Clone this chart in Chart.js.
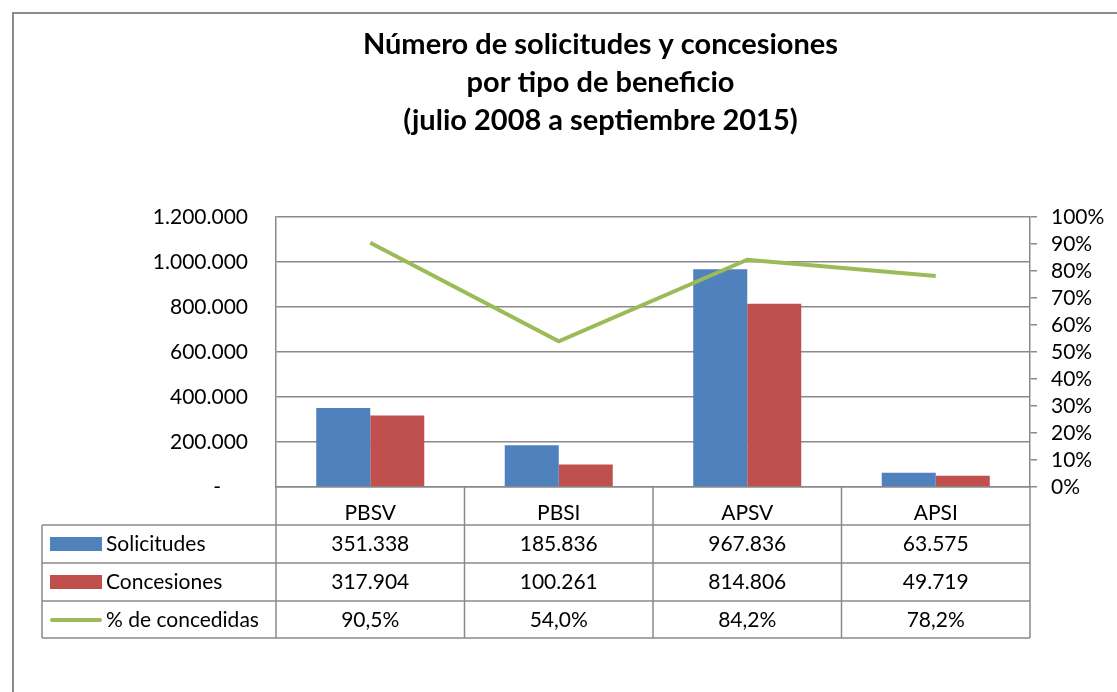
<!DOCTYPE html>
<html>
<head>
<meta charset="utf-8">
<script src="https://cdn.jsdelivr.net/npm/chart.js@4"></script>
<style>
  body { margin: 0; background: #fff; }
  #wrap { width: 1117px; height: 692px; position: relative; }
</style>
</head>
<body>
<div id="wrap"><canvas id="chart"></canvas></div>
<script>
// Data
const categories = ['PBSV', 'PBSI', 'APSV', 'APSI'];
const solicitudes = [351338, 185836, 967836, 63575];
const concesiones = [317904, 100261, 814806, 49719];
const pctConcedidas = [0.905, 0.540, 0.842, 0.782];
const seriesNames = ['Solicitudes', 'Concesiones', '% de concedidas'];
const titleLines = ['Número de solicitudes y concesiones', 'por tipo de beneficio', '(julio 2008 a septiembre 2015)'];

const BLUE = '#4F81BD';
const RED = '#C0504D';
const GREEN = '#9BBB59';
const GRID = '#8a8a8a';
const FONT = 'Lato';

function fmtNum(v) {
    return String(Math.round(v)).replace(/\B(?=(\d{3})+(?!\d))/g, '.');
}
function fmtPct(v) {
    return (v * 100).toFixed(1).replace('.', ',') + '%';
}

// outer frame of the chart object (cut off at right/bottom)
const framePlugin = {
    id: 'frame',
    beforeDraw(chart) {
        const ctx = chart.ctx;
        ctx.save();
        ctx.strokeStyle = '#8c8c8c';
        ctx.lineWidth = 2;
        ctx.beginPath();
        ctx.moveTo(13, chart.height);
        ctx.lineTo(13, 13);
        ctx.lineTo(chart.width, 13);
        ctx.stroke();
        ctx.restore();
    }
};

// data table under the plot
const tablePlugin = {
    id: 'dataTable',
    afterDraw(chart) {
        const ctx = chart.ctx;
        const x = chart.scales.x;
        const n = categories.length;
        const colW = (x.right - x.left) / n;
        const top = chart.chartArea.bottom;
        const rowH = 38;
        const tableLeft = 42;
        const rows = [solicitudes.map(fmtNum), concesiones.map(fmtNum), pctConcedidas.map(fmtPct)];
        const bottom = top + rowH * (rows.length + 1) - 1;

        ctx.save();
        ctx.strokeStyle = GRID;
        ctx.lineWidth = 1.5;
        ctx.beginPath();
        // horizontal lines
        for (let r = 1; r <= rows.length + 1; r++) {
            const y = r === rows.length + 1 ? bottom : top + r * rowH;
            ctx.moveTo(tableLeft, y);
            ctx.lineTo(x.right, y);
        }
        // vertical lines
        ctx.moveTo(tableLeft, top + rowH);
        ctx.lineTo(tableLeft, bottom);
        for (let i = 0; i <= n; i++) {
            const cx = x.left + i * colW;
            ctx.moveTo(cx, top);
            ctx.lineTo(cx, bottom);
        }
        ctx.stroke();

        ctx.font = '21px ' + FONT;
        ctx.fillStyle = '#000';
        ctx.textBaseline = 'middle';
        rows.forEach((vals, r) => {
            const cy = top + rowH * (r + 1) + rowH / 2;
            // legend key
            if (r < 2) {
                ctx.fillStyle = r === 0 ? BLUE : RED;
                ctx.fillRect(50, cy - 7, 52, 14);
            } else {
                ctx.strokeStyle = GREEN;
                ctx.lineWidth = 4;
                ctx.lineCap = 'round';
                ctx.beginPath();
                ctx.moveTo(52, cy);
                ctx.lineTo(100, cy);
                ctx.stroke();
            }
            ctx.fillStyle = '#000';
            ctx.textAlign = 'left';
            ctx.fillText(seriesNames[r], 106, cy);
            ctx.textAlign = 'center';
            vals.forEach((v, i) => {
                ctx.fillText(v, x.left + (i + 0.5) * colW, cy);
            });
        });
        ctx.restore();
    }
};

const ctx = document.getElementById('chart').getContext('2d');
new Chart(ctx, {
    data: {
        labels: categories,
        datasets: [
            {
                type: 'line',
                label: seriesNames[2],
                data: pctConcedidas,
                yAxisID: 'y1',
                borderColor: GREEN,
                borderWidth: 4,
                pointRadius: 0,
                tension: 0,
                order: 0
            },
            {
                type: 'bar',
                label: seriesNames[0],
                data: solicitudes,
                backgroundColor: BLUE,
                yAxisID: 'y',
                barPercentage: 1,
                categoryPercentage: 0.573,
                order: 1
            },
            {
                type: 'bar',
                label: seriesNames[1],
                data: concesiones,
                backgroundColor: RED,
                yAxisID: 'y',
                barPercentage: 1,
                categoryPercentage: 0.573,
                order: 1
            }
        ]
    },
    options: {
        responsive: true,
        maintainAspectRatio: false,
        animation: false,
        // left padding shifts the title centre to match the (cropped) chart frame
        layout: { padding: { left: 84, right: 0, top: 0, bottom: 0 } },
        plugins: {
            legend: { display: false },
            tooltip: { enabled: false },
            title: {
                display: true,
                text: titleLines,
                color: '#000',
                font: { family: FONT, size: 29, weight: 'bold', lineHeight: 1.3 },
                padding: { top: 26, bottom: 78 }
            }
        },
        scales: {
            x: {
                grid: { display: false },
                border: { display: true, color: GRID, width: 1.5 },
                ticks: { color: '#000', font: { family: FONT, size: 21 }, padding: 6 },
                afterFit(s) { s.height = 205; }
            },
            y: {
                position: 'left',
                min: 0,
                max: 1200000,
                ticks: {
                    stepSize: 200000,
                    color: '#000',
                    padding: 28,
                    font: { family: FONT, size: 21 },
                    callback: v => v === 0 ? '-     ' : fmtNum(v)
                },
                grid: { color: GRID, lineWidth: 1.5, drawTicks: false },
                border: { display: true, color: GRID, width: 1.5 },
                afterFit(s) { s.width = 192; }
            },
            y1: {
                position: 'right',
                min: 0,
                max: 1,
                ticks: {
                    stepSize: 0.1,
                    autoSkip: false,
                    color: '#000',
                    padding: 14,
                    font: { family: FONT, size: 21 },
                    callback: v => Math.round(v * 100) + '%'
                },
                grid: { drawOnChartArea: false, color: GRID, lineWidth: 1.5, tickLength: 7 },
                border: { display: true, color: GRID, width: 1.5 },
                afterFit(s) { s.width = 87; }
            }
        }
    },
    plugins: [framePlugin, tablePlugin]
});
</script>
</body>
</html>
